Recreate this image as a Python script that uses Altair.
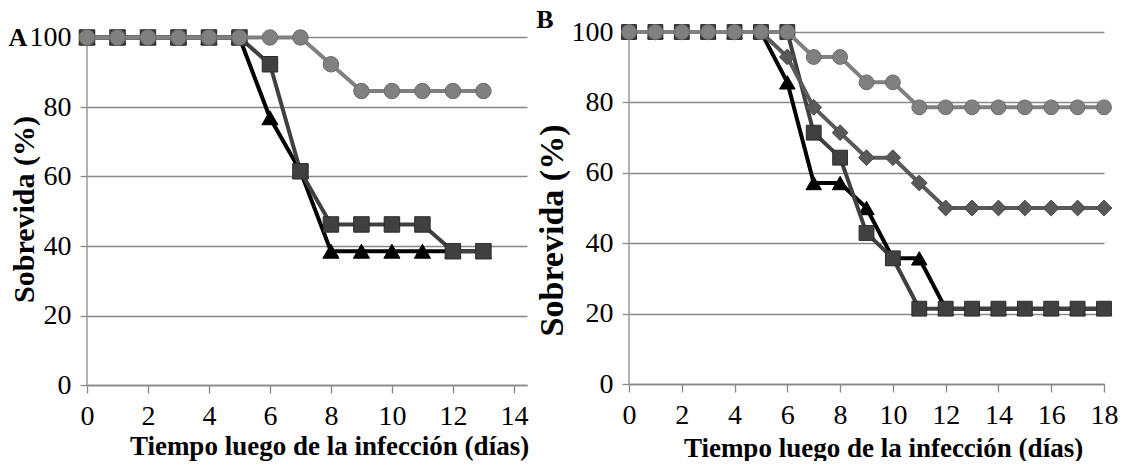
import altair as alt
import pandas as pd

# ---------------- data ----------------
a_days = list(range(14))
a_circle = [100, 100, 100, 100, 100, 100, 100, 100, 92.3, 84.6, 84.6, 84.6, 84.6, 84.6]
a_square = [100, 100, 100, 100, 100, 100, 92.3, 61.5, 46.2, 46.2, 46.2, 46.2, 38.5, 38.5]
a_triangle = [100, 100, 100, 100, 100, 100, 76.9, 61.5, 38.5, 38.5, 38.5, 38.5, 38.5, 38.5]

b_days = list(range(19))
b_circle = [100, 100, 100, 100, 100, 100, 100, 92.9, 92.9, 85.7, 85.7,
            78.6, 78.6, 78.6, 78.6, 78.6, 78.6, 78.6, 78.6]
b_diamond = [100, 100, 100, 100, 100, 100, 92.9, 78.6, 71.4, 64.3, 64.3,
             57.1, 50, 50, 50, 50, 50, 50, 50]
b_square = [100, 100, 100, 100, 100, 100, 100, 71.4, 64.3, 42.9, 35.7,
            21.4, 21.4, 21.4, 21.4, 21.4, 21.4, 21.4, 21.4]
b_triangle = [100, 100, 100, 100, 100, 100, 85.7, 57.1, 57.1, 50.0, 35.7,
              35.7, 21.4, 21.4, 21.4, 21.4, 21.4, 21.4, 21.4]

a_xticks = [0, 2, 4, 6, 8, 10, 12, 14]
b_xticks = [0, 2, 4, 6, 8, 10, 12, 14, 16, 18]
y_ticks = [0, 20, 40, 60, 80, 100]

x_title = "Tiempo luego de la infección (días)"
y_title = "Sobrevida (%)"

FONT = "Liberation Serif"
GRID = "#888888"
TICK_FONT = 28

STYLES = {
    "triangle": dict(shape="triangle-up", fill="#000000", stroke="#000000", line="#000000"),
    "square": dict(shape="square", fill="#404040", stroke="#2c2c2c", line="#404040"),
    "diamond": dict(shape="diamond", fill="#595959", stroke="#4a4a4a", line="#595959"),
    "circle": dict(shape="circle", fill="#808080", stroke="#6c6c6c", line="#808080"),
}


def panel(days, series, xmax, width, height, ymax, xticks, letter, letter_xy,
          ytitle_xy, xtitle_xy, msize, lsize, title_font, y_title_font):
    xscale = alt.Scale(domain=[0, xmax], nice=False, zero=False)
    yscale = alt.Scale(domain=[0, ymax], nice=False)
    xaxis = alt.Axis(values=xticks, grid=False, title=x_title, domainColor=GRID,
                     domainWidth=1.3, tickColor=GRID, tickWidth=1.3, tickSize=8,
                     labelFont=FONT, labelFontSize=TICK_FONT, labelColor="black",
                     labelPadding=9, titleFont=FONT, titleFontSize=title_font,
                     titleFontWeight="bold", titleColor="black",
                     titleX=xtitle_xy[0], titleY=xtitle_xy[1], titleBaseline="middle",
                     titleAnchor="middle", labelFlush=False)
    yaxis = alt.Axis(values=y_ticks, grid=True, gridColor=GRID, gridWidth=1.3,
                     domain=False, tickColor=GRID, tickWidth=1.3, tickSize=7,
                     labelFont=FONT, labelFontSize=TICK_FONT, labelColor="black",
                     labelPadding=9, title=y_title, titleFont=FONT,
                     titleFontSize=y_title_font, titleFontWeight="bold",
                     titleColor="black", titleX=ytitle_xy[0], titleY=ytitle_xy[1],
                     titleBaseline="middle", titleAnchor="middle")
    xenc = alt.X("day:Q", scale=xscale, axis=xaxis)
    yenc = alt.Y("value:Q", scale=yscale, axis=yaxis)

    layers = []
    # y axis line from 0 to 100
    ax = pd.DataFrame({"day": [0], "value": [0], "value2": [100]})
    layers.append(
        alt.Chart(ax).mark_rule(color=GRID, strokeWidth=1.3).encode(
            x=xenc, y=yenc, y2="value2:Q")
    )
    for name, values in series:
        st = STYLES[name]
        df = pd.DataFrame({"day": days, "value": values})
        base = alt.Chart(df)
        layers.append(base.mark_line(color=st["line"], strokeWidth=lsize).encode(x=xenc, y=yenc))
        layers.append(base.mark_point(shape=st["shape"], filled=True, fill=st["fill"],
                                      stroke=st["stroke"], strokeWidth=1, opacity=1,
                                      size=msize.get(name, 256)).encode(x=xenc, y=yenc))
    lt = pd.DataFrame({"t": [letter]})
    layers.append(
        alt.Chart(lt).mark_text(font=FONT, fontSize=26, fontWeight="bold", color="black",
                                align="center", baseline="middle").encode(
            text="t:N", x=alt.value(letter_xy[0]), y=alt.value(letter_xy[1]))
    )
    return alt.layer(*layers).properties(width=width, height=height)


# Panel A: origin shared with B (top at 100 of B); A's 100 sits a bit lower
a_height = 353
a_ymax = 100 * a_height / (a_height - 5.5)
chart_a = panel(
    a_days,
    [("triangle", a_triangle), ("square", a_square), ("circle", a_circle)],
    xmax=14.43, width=440, height=a_height, ymax=a_ymax, xticks=a_xticks,
    letter="A", letter_xy=(-69, 6), ytitle_xy=(-63, 177), xtitle_xy=(242, 61),
    msize={"circle": 240, "square": 240, "triangle": 260},
    lsize=4, title_font=27, y_title_font=30,
)

chart_b = panel(
    b_days,
    [("triangle", b_triangle), ("square", b_square), ("diamond", b_diamond), ("circle", b_circle)],
    xmax=18, width=475, height=352, ymax=100, xticks=b_xticks,
    letter="B", letter_xy=(-84, -12), ytitle_xy=(-77, 198), xtitle_xy=(254, 64),
    msize={"circle": 220, "square": 220, "triangle": 240, "diamond": 250},
    lsize=4, title_font=27, y_title_font=34,
)

chart = alt.hconcat(chart_a, chart_b, spacing=6).properties(
    padding={"left": 8, "top": 7, "right": 0, "bottom": 0},
    background="white",
).configure_view(stroke=None).configure_axis(
    labelFont=FONT, labelFontSize=TICK_FONT, titleFont=FONT
)

chart.save("out.html", embed_options={"renderer": "svg", "actions": False})
